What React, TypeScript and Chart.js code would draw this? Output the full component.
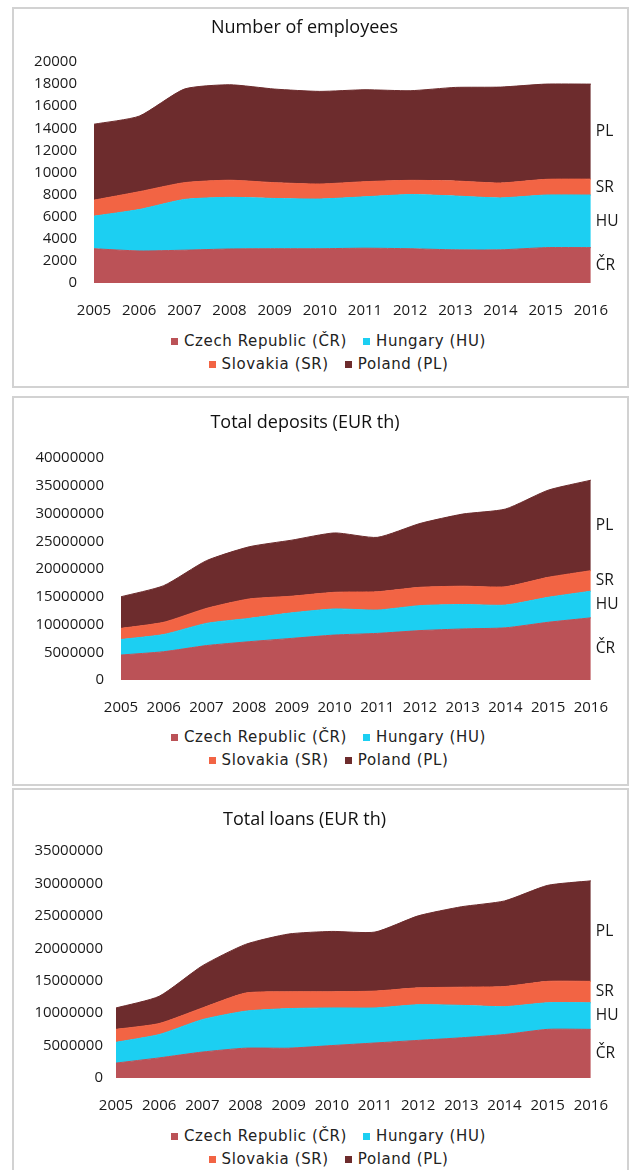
import { useEffect, useRef } from "react";
import { Chart, registerables } from "chart.js";

Chart.register(...registerables);

const years = ["2005", "2006", "2007", "2008", "2009", "2010", "2011", "2012", "2013", "2014", "2015", "2016"];
const seriesNames = ["Czech Republic (ČR)", "Hungary (HU)", "Slovakia (SR)", "Poland (PL)"];
const seriesCodes = ["ČR", "HU", "SR", "PL"];
const seriesColors = ["#bb5257", "#1ccff2", "#f26444", "#6d2c2d"];

const employeesCR = [3100, 2900, 2970, 3080, 3100, 3100, 3150, 3100, 3000, 3000, 3200, 3200];
const employeesHU = [2950, 3750, 4590, 4670, 4550, 4500, 4650, 4900, 4870, 4700, 4760, 4760];
const employeesSR = [1450, 1610, 1520, 1550, 1430, 1360, 1370, 1290, 1360, 1350, 1420, 1440];
const employeesPL = [6870, 6840, 8470, 8640, 8470, 8380, 8320, 8110, 8470, 8680, 8620, 8600];

const depositsCR = [4500000, 5100000, 6200000, 6900000, 7500000, 8100000, 8400000, 8900000, 9200000, 9400000, 10400000, 11200000];
const depositsHU = [2800000, 3100000, 4000000, 4200000, 4600000, 4700000, 4200000, 4500000, 4400000, 4100000, 4500000, 4800000];
const depositsSR = [2000000, 2200000, 2700000, 3500000, 3000000, 3000000, 3300000, 3300000, 3300000, 3300000, 3600000, 3700000];
const depositsPL = [5700000, 6600000, 8600000, 9400000, 10100000, 10700000, 9800000, 11500000, 13000000, 14000000, 15700000, 16300000];

const loansCR = [2300000, 3100000, 4000000, 4600000, 4600000, 5000000, 5400000, 5800000, 6200000, 6700000, 7500000, 7500000];
const loansHU = [3200000, 3600000, 5000000, 5700000, 6100000, 5800000, 5400000, 5500000, 5000000, 4300000, 4100000, 4100000];
const loansSR = [2000000, 1700000, 1800000, 2800000, 2600000, 2500000, 2600000, 2600000, 2800000, 3100000, 3300000, 3300000];
const loansPL = [3300000, 4200000, 6500000, 7500000, 8900000, 9300000, 9100000, 11100000, 12400000, 13200000, 14800000, 15500000];

const TICK_FONT = "'Open Sans', 'DejaVu Sans', sans-serif";
const LEGEND_FONT = "'DejaVu Sans', Verdana, sans-serif";

const bandLabels = {
  id: "bandLabels",
  afterDatasetsDraw(chart: any) {
    const { ctx, chartArea } = chart;
    const yScale = chart.scales.y;
    let prevY = yScale.getPixelForValue(0);
    ctx.save();
    ctx.font = `15.5px ${TICK_FONT}`;
    ctx.fillStyle = "#1a1a1a";
    ctx.textAlign = "left";
    ctx.textBaseline = "middle";
    chart.data.datasets.forEach((ds: any, i: number) => {
      const meta = chart.getDatasetMeta(i);
      const pt = meta.data[meta.data.length - 1];
      const top = pt.y;
      const mid = (top + prevY) / 2;
      ctx.fillText(seriesCodes[i], chartArea.right + 5, mid);
      prevY = top;
    });
    ctx.restore();
  },
};

type PanelProps = {
  title: string;
  series: number[][];
  yMax: number;
  yStep: number;
  panelTop: number;
  panelHeight: number;
  canvasTop: number;
  canvasHeight: number;
  areaTop: number;
  areaBottom: number;
  areaLeft: number;
  areaRight: number;
  titleY: number;
  xLabelY: number;
  yPad: number;
};

const CANVAS_LEFT = 14;
const CANVAS_WIDTH = 613;

function Panel(p: PanelProps) {
  const ref = useRef<HTMLCanvasElement>(null);
  useEffect(() => {
    if (!ref.current) return;
    const rel = (v: number) => v - p.canvasTop;
    const titleLine = 18 * 1.2;
    const titlePadTop = rel(p.titleY) - titleLine / 2;
    const titlePadBottom = rel(p.areaTop) - titlePadTop - titleLine;
    const xHeight = p.canvasHeight - rel(p.areaBottom);
    const xPad = rel(p.xLabelY) - rel(p.areaBottom) - 9;
    const yWidth = p.areaLeft - CANVAS_LEFT;
    const rightPad = CANVAS_LEFT + CANVAS_WIDTH - p.areaRight;
    const chart = new Chart(ref.current, {
      type: "line",
      data: {
        labels: years,
        datasets: p.series.map((vals, i) => ({
          label: seriesNames[i],
          data: vals,
          fill: i === 0 ? "origin" : "-1",
          backgroundColor: seriesColors[i],
          borderColor: seriesColors[i],
          borderWidth: 1,
          pointRadius: 0,
          tension: 0.2,
        })),
      },
      options: {
        animation: false,
        responsive: false,
        devicePixelRatio: 1,
        layout: { padding: { top: 0, left: 0, bottom: 0, right: rightPad } },
        plugins: {
          legend: { display: false },
          tooltip: { enabled: false },
          title: {
            display: true,
            text: p.title,
            color: "#111",
            font: { family: TICK_FONT, size: 18, weight: "normal", lineHeight: 1.2 },
            padding: { top: titlePadTop, bottom: titlePadBottom },
          },
        },
        scales: {
          x: {
            offset: false,
            grid: { display: false, drawTicks: false },
            border: { display: false },
            ticks: {
              autoSkip: false,
              maxRotation: 0,
              padding: xPad,
              color: "#1a1a1a",
              font: { family: TICK_FONT, size: 15, lineHeight: 1.2 },
            },
            afterFit: (s: any) => {
              s.height = xHeight;
            },
          },
          y: {
            stacked: true,
            min: 0,
            max: p.yMax,
            grid: { display: false, drawTicks: false },
            border: { display: false },
            ticks: {
              stepSize: p.yStep,
              padding: p.yPad,
              color: "#1a1a1a",
              font: { family: TICK_FONT, size: 15, lineHeight: 1.2 },
              callback: (v: any) => String(v),
            },
            afterFit: (s: any) => {
              s.width = yWidth;
            },
          },
        },
      } as any,
      plugins: [bandLabels],
    });
    return () => chart.destroy();
  }, []);

  const legendRow = (idx: number[]) => (
    <div style={{ display: "flex", justifyContent: "center", height: 23, alignItems: "center" }}>
      {idx.map((i) => (
        <span key={i} style={{ display: "inline-flex", alignItems: "center", margin: "0 8px" }}>
          <span style={{ width: 7, height: 7, background: seriesColors[i], display: "inline-block", marginRight: 6 }} />
          <span>{seriesNames[i]}</span>
        </span>
      ))}
    </div>
  );

  return (
    <>
      <div
        style={{
          position: "absolute",
          left: 12,
          top: p.panelTop,
          width: 613,
          height: p.panelHeight,
          border: "2px solid #d2d2d2",
        }}
      />
      <canvas
        ref={ref}
        width={CANVAS_WIDTH}
        height={p.canvasHeight}
        style={{ position: "absolute", left: CANVAS_LEFT, top: p.canvasTop, width: CANVAS_WIDTH, height: p.canvasHeight }}
      />
      <div
        style={{
          position: "absolute",
          left: CANVAS_LEFT + 16,
          top: p.canvasTop + p.canvasHeight + 1,
          width: CANVAS_WIDTH - 16,
          fontFamily: LEGEND_FONT,
          fontSize: 15,
          letterSpacing: 0.6,
          color: "#222",
          lineHeight: "23px",
        }}
      >
        {legendRow([0, 1])}
        {legendRow([2, 3])}
      </div>
    </>
  );
}

export default function App() {
  return (
    <div
      style={{
        position: "absolute",
        left: 0,
        top: 0,
        width: 631,
        height: 1170,
        overflow: "hidden",
        background: "#fff",
      }}
    >
      <Panel
        title="Number of employees"
        series={[employeesCR, employeesHU, employeesSR, employeesPL]}
        yMax={20000}
        yStep={2000}
        panelTop={7}
        panelHeight={377}
        canvasTop={9}
        canvasHeight={320}
        areaTop={62}
        areaBottom={283}
        areaLeft={94}
        areaRight={595}
        titleY={28}
        xLabelY={311}
        yPad={17}
      />
      <Panel
        title="Total deposits (EUR th)"
        series={[depositsCR, depositsHU, depositsSR, depositsPL]}
        yMax={40000000}
        yStep={5000000}
        panelTop={396}
        panelHeight={386}
        canvasTop={399}
        canvasHeight={326}
        areaTop={458}
        areaBottom={680}
        areaLeft={121}
        areaRight={596}
        titleY={423}
        xLabelY={708}
        yPad={17}
      />
      <Panel
        title="Total loans (EUR th)"
        series={[loansCR, loansHU, loansSR, loansPL]}
        yMax={35000000}
        yStep={5000000}
        panelTop={788}
        panelHeight={400}
        canvasTop={791}
        canvasHeight={333}
        areaTop={851}
        areaBottom={1078}
        areaLeft={116}
        areaRight={595}
        titleY={820}
        xLabelY={1106}
        yPad={13}
      />
    </div>
  );
}
